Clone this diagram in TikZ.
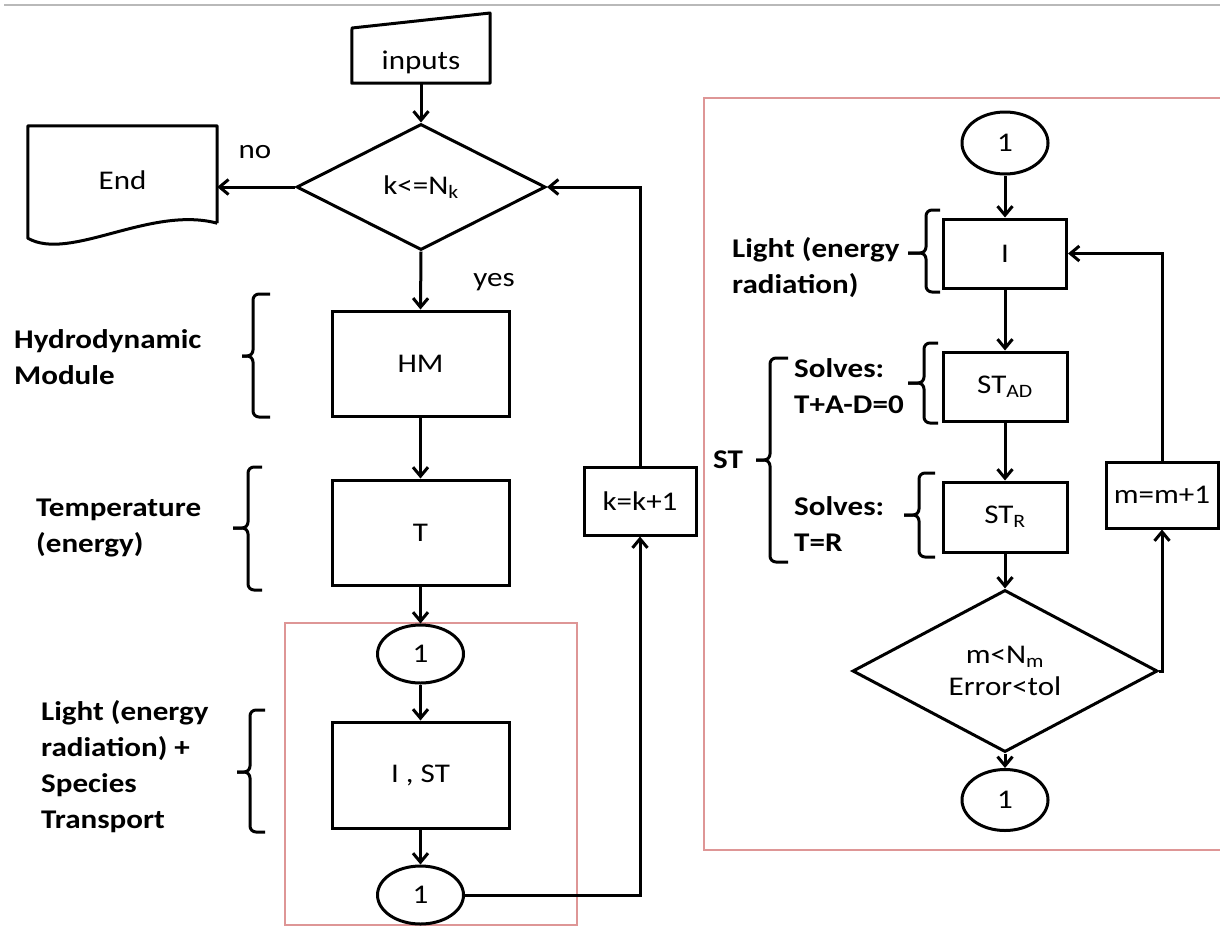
\documentclass[tikz,border=0pt]{standalone}
\usepackage{fontspec}
\setmainfont{Carlito}[FakeStretch=1.15]
\usetikzlibrary{arrows.meta,shapes.geometric,calc}
\definecolor{redbox}{RGB}{222,150,150}
\newcommand\mybrace[6]{%
  \draw[bracepath] (#3,#4) -- (#2,#4) -- (#2,#5) -- (#1,#5);
  \draw[bracepath] (#1,#5) -- (#2,#5) -- (#2,#6) -- (#3,#6);}
\begin{document}
\begin{tikzpicture}[x=1pt,y=-1pt,
  every node/.style={font=\fontsize{27}{34}\selectfont},
  procbox/.style={draw,line width=3pt,rectangle,inner sep=0pt},
  ovalbox/.style={draw,line width=3pt,ellipse,inner sep=0pt,minimum width=86pt,minimum height=58pt},
  decbox/.style={draw,line width=3pt,diamond,inner sep=0pt},
  arr/.style={line width=3pt,-{Straight Barb[length=9pt,width=15pt]}},
  sidelab/.style={font=\fontsize{27}{36}\selectfont\bfseries,align=left,anchor=west,inner sep=0pt},
  bracepath/.style={line width=3pt,rounded corners=6pt},
  redframe/.style={draw=redbox,line width=2pt}]
\useasboundingbox (0,0) rectangle (1220,930);
\clip (0,0) rectangle (1220,930);
% top rule
\draw[gray!55,line width=2pt] (4,5) -- (1220,5);
% red frames
\draw[redframe] (285,623) rectangle (577,925);
\draw[redframe] (704,98) rectangle (1240,850);
% inputs
\node[inner sep=0pt,minimum width=138pt,minimum height=42pt] (inputs) at (421,62) {inputs};
\draw[line width=3pt,line join=round] (inputs.south west) -- (352,28) -- (490,13) -- (inputs.south east) -- cycle;
% decision k
\node[decbox,minimum width=249pt,minimum height=126pt] (k) at (421,187) {k<=N\textsubscript{k}};
% End document (shape drawn 5.5pt above the node box so the text sits low)
\node[inner sep=0pt,minimum width=189pt,minimum height=97pt] (end) at (122.5,180) {End};
\draw[line width=3pt,line join=round] ($(end.south east)+(0,-5.5)$) -- ($(end.north east)+(0,-5.5)$) -- ($(end.north west)+(0,-5.5)$) -- ($(end.south west)+(0,9.5)$)
  .. controls ($(end.south west)+(42,33.5)$) and ($(end.south east)+(-67,-23.5)$) .. ($(end.south east)+(0,-5.5)$);
% left column
\node[procbox,minimum width=177pt,minimum height=105pt] (hm) at (420.5,363.5) {HM};
\node[procbox,minimum width=177pt,minimum height=105pt] (t) at (420.5,532.5) {T};
\node[ovalbox] (c1) at (420.5,654) {1};
\node[procbox,minimum width=177pt,minimum height=106pt] (ist) at (420.5,775) {I , ST};
\node[ovalbox] (c2) at (420.5,895) {1};
\node[procbox,minimum width=112pt,minimum height=68pt] (kk) at (640,501) {k=k+1};
% right column
\node[ovalbox,minimum height=62pt] (c3) at (1005,143) {1};
\node[procbox,minimum width=123pt,minimum height=69pt] (i) at (1005,253.5) {I};
\node[procbox,minimum width=124pt,minimum height=69pt] (stad) at (1005,386.5) {ST\textsubscript{AD}};
\node[procbox,minimum width=124pt,minimum height=70pt] (str) at (1005,517) {ST\textsubscript{R}};
\node[decbox,minimum width=305pt,minimum height=129pt,align=center,font=\fontsize{27}{32}\selectfont] (m) at (1005,671) {m<N\textsubscript{m}\\Error<tol};
\node[ovalbox,minimum height=61pt] (c4) at (1005,800) {1};
\node[procbox,minimum width=112pt,minimum height=66pt] (mm) at (1162,495) {m=m+1};
% connectors
\draw[arr] (inputs.south) -- (k.north);
\draw[arr] (k.west) -- (end.east |- k.west);
\draw[arr] (k.south) -- (hm.north);
\draw[arr] (hm.south) -- (t.north);
\draw[arr] (t.south) -- (c1.north);
\draw[arr] (c1.south) -- (ist.north);
\draw[arr] (ist.south) -- (c2.north);
\draw[arr] (c2.east) -| (kk.south);
\draw[arr] (kk.north) |- (k.east);
\draw[arr] (c3.south) -- (i.north);
\draw[arr] (i.south) -- (stad.north);
\draw[arr] (stad.south) -- (str.north);
\draw[arr] (str.south) -- (m.north);
\draw[arr] (m.south) -- (c4.north);
\draw[arr] (m.east) -| (mm.south);
\draw[arr] (mm.north) |- (i.east);
% edge labels
\node (no) at (255,152) {no};
\node (yes) at (494,282) {yes};
% side labels
\node[sidelab] (hyd) at (14,357) {Hydrodynamic\\Module};
\node[sidelab] (temp) at (36,528) {Temperature\\(energy)};
\node[sidelab] (light) at (41,767) {Light (energy\\radiation) +\\Species\\Transport};
\node[sidelab] (light2) at (732,268) {Light (energy\\radiation)};
\node[sidelab] (solv1) at (794,386) {Solves:\\T+A-D=0};
\node[sidelab] (solv2) at (794,524) {Solves:\\T=R};
\node[sidelab] (st) at (713,460) {ST};
% braces
\mybrace{242}{253}{270}{294}{356}{417}
\mybrace{233}{248}{262}{467}{528}{590}
\mybrace{237}{250}{265}{710}{772}{832}
\mybrace{908}{926}{940}{210}{253}{292}
\mybrace{908}{924}{938}{343}{383}{423}
\mybrace{904}{919}{935}{473}{515}{557}
\mybrace{756}{770}{788}{358}{460}{562}
\end{tikzpicture}
\end{document}
